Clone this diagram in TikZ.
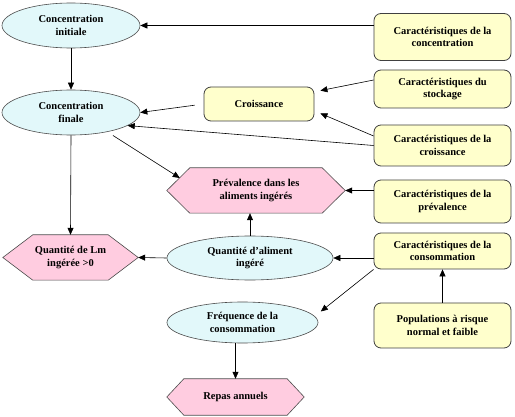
\documentclass[tikz,border=0pt]{standalone}
\usepackage{fontspec}
\setmainfont{Liberation Serif}
\usetikzlibrary{shapes.geometric,arrows.meta,calc,backgrounds}
\definecolor{cyanfill}{HTML}{E2F8FA}
\definecolor{yellowfill}{HTML}{FFFFCC}
\definecolor{pinkfill}{HTML}{FFCCE0}
\newcommand\hexdraw[2]{%
  \draw[hexline] (#1.west) -- ($(#1.north west)+(#2,0)$) -- ($(#1.north east)+(-#2,0)$)
    -- (#1.east) -- ($(#1.south east)+(-#2,0)$) -- ($(#1.south west)+(#2,0)$) -- cycle;}
\begin{document}
\begin{tikzpicture}[x=1pt,y=-1pt,
  font=\fontsize{10.5}{12.5}\selectfont\bfseries,
  ell/.style={ellipse, draw=black!70, line width=0.6pt, fill=cyanfill, inner sep=0pt, align=center},
  ybox/.style={rectangle, rounded corners=7pt, draw=black!75, line width=0.8pt, fill=yellowfill, inner sep=0pt, align=center},
  hexbox/.style={rectangle, inner sep=0pt, align=center},
  hexline/.style={draw=black!70, line width=0.6pt, fill=pinkfill},
  arr/.style={-{Triangle[length=7pt,width=6pt]}, line width=0.6pt}]
\useasboundingbox (0,0) rectangle (515,417);

% ellipses
\node[ell, minimum width=138pt, minimum height=45pt] (ci) at (71,25.5) {Concentration\\initiale};
\node[ell, minimum width=138pt, minimum height=45pt] (cf) at (71,112.5) {Concentration\\finale};
\node[ell, minimum width=166pt, minimum height=44pt] (qa) at (250,258) {Quantité d'aliment\\ingéré};
\node[ell, minimum width=151pt, minimum height=41pt] (fq) at (242.5,322.5) {Fréquence de la\\consommation};

% hexagons
\node[hexbox, minimum width=178pt, minimum height=45pt] (pv) at (256,190.5) {Prévalence dans les\\aliments ingérés};
\node[hexbox, minimum width=135pt, minimum height=45pt] (lm) at (70.5,257.5) {Quantité de Lm\\ingérée >0};
\node[hexbox, minimum width=137pt, minimum height=36pt] (rp) at (235.5,397) {Repas annuels};
\begin{scope}[on background layer]
  \fill[white] (0,0) rectangle (515,417);
  \hexdraw{pv}{23}
  \hexdraw{lm}{30}
  \hexdraw{rp}{17}
\end{scope}

% boxes
\node[ybox, minimum width=110pt, minimum height=34pt] (cr) at (259,104) {Croissance};
\node[ybox, minimum width=137pt, minimum height=47pt] (cb) at (442.5,37) {Caractéristiques de la\\concentration};
\node[ybox, minimum width=137pt, minimum height=38pt] (sb) at (442.5,89) {Caractéristiques du\\stockage};
\node[ybox, minimum width=137pt, minimum height=41pt] (gb) at (442.5,145.5) {Caractéristiques de la\\croissance};
\node[ybox, minimum width=137pt, minimum height=43pt] (pb) at (442.5,201.5) {Caractéristiques de la\\prévalence};
\node[ybox, minimum width=137pt, minimum height=36pt] (kb) at (442.5,251) {Caractéristiques de la\\consommation};
\node[ybox, minimum width=137pt, minimum height=45pt] (pop) at (442.5,325.5) {Populations à risque\\normal et faible};

% connectors
\draw[arr] (cb.west |- ci.east) -- (ci.east);
\draw[arr] (ci.south) -- (cf.north);
\draw[arr, shorten <=9pt] (cr.west) -- (cf.east);
\draw[arr] ($(sb.west)+(0,-9)$) -- ($(cr.north east)+(6,4)$);
\draw[arr] ($(gb.west)+(0,-9.5)$) -- ($(cr.south east)+(6,-8)$);
\draw[arr] (gb.west) -- (cf.-13);
\draw[arr] ($(cf.center)+(42,23)$) -- ($(pv.west)+(13,-12.5)$);
\draw[arr] (cf.south) -- (lm.north);
\draw[arr] (pb.west |- pv.east) -- (pv.east);
\draw[arr] (qa.north) -- (qa.north |- pv.south);
\draw[arr] (qa.west) -- (lm.east);
\draw[arr] (kb.west |- qa.east) -- (qa.east);
\draw[arr] (pop.north) -- (kb.south);
\draw[arr] (kb.south west) -- ($(fq.east)+(2.5,-11)$);
\draw[arr] (rp.north |- fq.south) -- (rp.north);
\end{tikzpicture}
\end{document}
